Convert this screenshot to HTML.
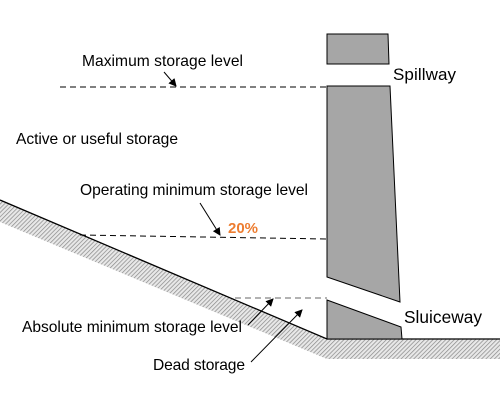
<!DOCTYPE html>
<html><head><style>body{margin:0;background:#fff}svg{display:block}</style></head>
<body>
<svg width="500" height="400" viewBox="0 0 500 400" xmlns="http://www.w3.org/2000/svg" font-family="Liberation Sans, sans-serif">
<defs>
<pattern id="h" width="3" height="3" patternUnits="userSpaceOnUse" patternTransform="rotate(45)">
<rect width="3" height="3" fill="#e8e8e8"/><line x1="0" y1="0" x2="0" y2="3" stroke="#888" stroke-width="1.4"/>
</pattern>
<marker id="a" markerWidth="8" markerHeight="8" refX="7" refY="4" orient="auto" markerUnits="userSpaceOnUse"><path d="M0,0 L8,4 L0,8 z" fill="#000"/></marker>
</defs>
<polygon points="0,200 327,339 500,339 500,359 327,359 0,222" fill="url(#h)"/>
<polyline points="0,200 327,339 500,339" fill="none" stroke="#000" stroke-width="1.3"/>
<polygon points="327,34 388,34 389,64 327,64" fill="#a6a6a6" stroke="#000" stroke-width="1"/>
<polygon points="327,86 390,86 400,302 327,277" fill="#a6a6a6" stroke="#000" stroke-width="1"/>
<polygon points="327,300 401,327 402,339 327,339" fill="#a6a6a6" stroke="#000" stroke-width="1"/>
<g stroke="#000" stroke-width="1" stroke-dasharray="6,4" fill="none">
<line x1="60" y1="87" x2="327" y2="87"/>
<line x1="80" y1="235" x2="327" y2="239"/>
<line x1="235" y1="298" x2="327" y2="298" stroke="#666"/>
</g>
<g stroke="#000" stroke-width="1" marker-end="url(#a)">
<line x1="164" y1="72" x2="176" y2="86"/>
<line x1="200" y1="203" x2="220" y2="235"/>
<line x1="248" y1="325" x2="273" y2="299"/>
<line x1="251" y1="362" x2="302" y2="310"/>
</g>
<g font-size="15.6" fill="#000">
<text x="82" y="66" textLength="161">Maximum storage level</text>
<text x="16" y="144" textLength="162">Active or useful storage</text>
<text x="80" y="195" textLength="228">Operating minimum storage level</text>
<text x="22" y="332" textLength="220">Absolute minimum storage level</text>
<text x="153" y="370" textLength="92">Dead storage</text>
<text x="393" y="80" font-size="17" textLength="63">Spillway</text>
<text x="404" y="323" font-size="17.3" textLength="78">Sluiceway</text>
</g>
<text x="228" y="233" font-size="15" font-weight="bold" fill="#ed7d31">20%</text>
</svg>
</body></html>
